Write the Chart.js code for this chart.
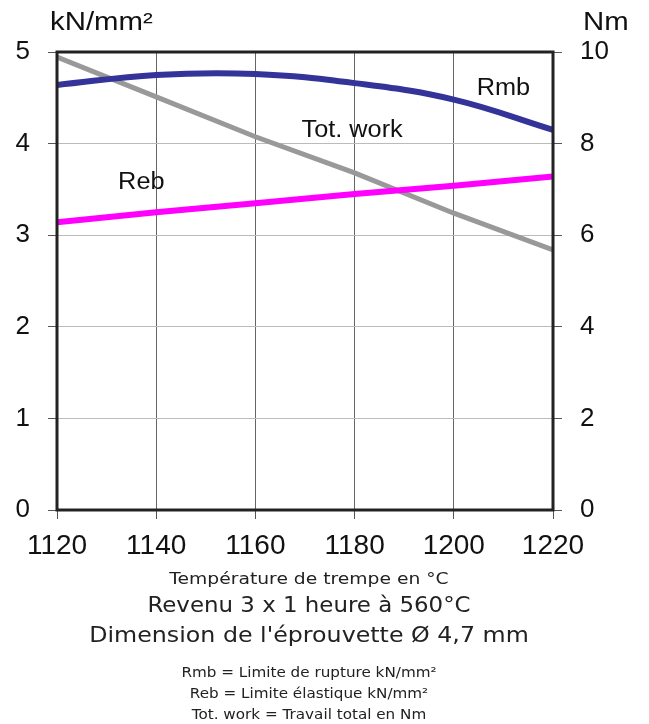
<!DOCTYPE html>
<html lang="fr">
<head>
<meta charset="UTF-8">
<title>Rmb / Reb / Tot. work</title>
<script src="https://cdn.jsdelivr.net/npm/chart.js"></script>
<style>
  body { margin: 0; background: #fff; }
  #wrap { position: relative; width: 649px; height: 724px; }
  canvas { position: absolute; left: 0; top: 0; }
  .t { position: absolute; color: #111; white-space: nowrap; }
  .ax { font-family: "Liberation Sans", Arial, sans-serif; font-size: 26px; top: 6px; transform: scaleX(1.13); transform-origin: left center; }
  .foot { left: 0; width: 618px; text-align: center; font-family: "DejaVu Sans", sans-serif; color: #222; transform-origin: 309px 50%; }
</style>
</head>
<body>
<div id="wrap">
  <canvas id="c" width="649" height="724"></canvas>
  <div class="t ax" style="left:50px">kN/mm²</div>
  <div class="t ax" style="left:583px">Nm</div>
  <div class="t foot" style="top:569px;font-size:16px;transform:scaleX(1.17)">Température de trempe en °C</div>
  <div class="t foot" style="top:593px;font-size:21px;transform:scaleX(1.09)">Revenu 3 x 1 heure à 560°C</div>
  <div class="t foot" style="top:623px;font-size:21px;transform:scaleX(1.13)">Dimension de l'éprouvette Ø 4,7 mm</div>
  <div class="t foot" style="top:664px;font-size:14px;transform:scaleX(1.085)">Rmb = Limite de rupture kN/mm²</div>
  <div class="t foot" style="top:685px;font-size:14px;transform:scaleX(1.085)">Reb = Limite élastique kN/mm²</div>
  <div class="t foot" style="top:706px;font-size:14px;transform:scaleX(1.085)">Tot. work = Travail total en Nm</div>
</div>
<script>
// temperature de trempe (°C)
const temps = [1120, 1140, 1160, 1180, 1200, 1220];
// kN/mm²
const rmb = [4.64, 4.75, 4.76, 4.66, 4.48, 4.15];
const reb = [3.14, 3.25, 3.35, 3.45, 3.54, 3.64];
// Nm
const totWork = [9.89, 9.02, 8.15, 7.36, 6.48, 5.68];

const leftTicks = [0, 1, 2, 3, 4, 5];
const rightTicks = [0, 2, 4, 6, 8, 10];

// curve labels placed in data units
const curveLabels = [
  { text: 'Rmb', x: 1210, y: 4.6, axis: 'y' },
  { text: 'Tot. work', x: 1179.5, y: 4.14, axis: 'y' },
  { text: 'Reb', x: 1137, y: 3.57, axis: 'y' }
];

const pts = (arr) => temps.map((t, i) => ({ x: t, y: arr[i] }));

const frame = {
  id: 'frame',
  afterDatasetsDraw(chart) {
    const { ctx, chartArea: a, scales } = chart;
    ctx.save();
    ctx.strokeStyle = '#222';
    ctx.lineWidth = 3;
    ctx.strokeRect(a.left, a.top, a.right - a.left, a.bottom - a.top);
    ctx.fillStyle = '#111';
    ctx.font = '23px "Liberation Sans", Arial, sans-serif';
    ctx.textAlign = 'center';
    ctx.textBaseline = 'middle';
    curveLabels.forEach(l => {
      const px = scales.x.getPixelForValue(l.x);
      const py = scales[l.axis].getPixelForValue(l.y);
      ctx.save();
      ctx.translate(px, py);
      ctx.scale(1.1, 1);
      ctx.fillText(l.text, 0, 0);
      ctx.restore();
    });
    ctx.restore();
  }
};

const plain = v => String(v);

new Chart(document.getElementById('c'), {
  type: 'line',
  data: {
    datasets: [
      { label: 'Rmb', data: pts(rmb), yAxisID: 'y', borderColor: '#333399', borderWidth: 6, tension: 0.4 },
      { label: 'Reb', data: pts(reb), yAxisID: 'y', borderColor: '#ff00ff', borderWidth: 6 },
      { label: 'Tot. work', data: pts(totWork), yAxisID: 'y1', borderColor: '#999999', borderWidth: 5 }
    ]
  },
  options: {
    responsive: false,
    animation: false,
    layout: { padding: { top: 52, left: 0, right: 0, bottom: 0 } },
    elements: { point: { radius: 0 } },
    plugins: { legend: { display: false }, tooltip: { enabled: false } },
    scales: {
      x: {
        type: 'linear', min: 1120, max: 1220,
        afterFit: s => { s.height = 724 - 510; },
        afterBuildTicks: s => { s.ticks = temps.map(v => ({ value: v })); },
        grid: { color: '#666', lineWidth: 1, tickLength: 9, tickColor: '#555' },
        border: { display: false },
        ticks: { font: { family: '"Liberation Sans", Arial, sans-serif', size: 28 }, color: '#111', padding: 10, maxRotation: 0, callback: plain }
      },
      y: {
        position: 'left', min: 0, max: 5,
        afterFit: s => { s.width = 57; },
        afterBuildTicks: s => { s.ticks = leftTicks.map(v => ({ value: v })); },
        grid: { color: '#bbb', lineWidth: 1, tickLength: 9, tickColor: '#555' },
        border: { display: false },
        ticks: { font: { family: '"Liberation Sans", Arial, sans-serif', size: 26 }, color: '#111', padding: 18, callback: plain }
      },
      y1: {
        position: 'right', min: 0, max: 10,
        afterFit: s => { s.width = 649 - 553; },
        afterBuildTicks: s => { s.ticks = rightTicks.map(v => ({ value: v })); },
        grid: { drawOnChartArea: false, tickLength: 9, tickColor: '#555' },
        border: { display: false },
        ticks: { font: { family: '"Liberation Sans", Arial, sans-serif', size: 26 }, color: '#111', padding: 18, callback: plain }
      }
    }
  },
  plugins: [frame]
});
</script>
</body>
</html>
